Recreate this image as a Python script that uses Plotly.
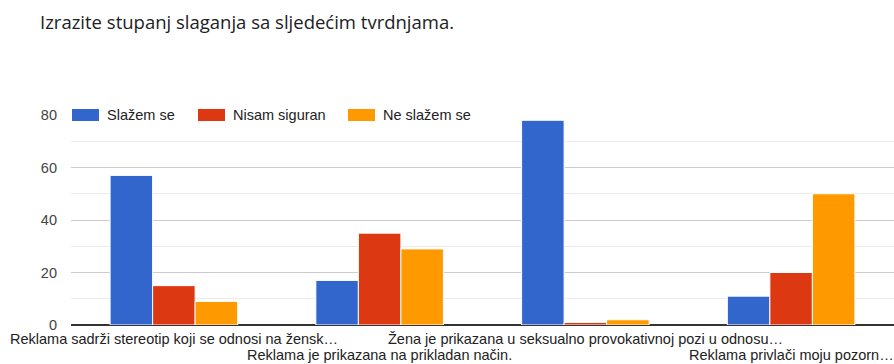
import plotly.graph_objects as go

# Statements (labels as they appear on the axis, truncated)
categories = [
    "Reklama sadrži stereotip koji se odnosi na žensk…",
    "Reklama je prikazana na prikladan način.",
    "Žena je prikazana u seksualno provokativnoj pozi u odnosu…",
    "Reklama privlači moju pozorn…",
]

# Response counts per answer option
slazem_se = [57, 17, 78, 11]
nisam_siguran = [15, 35, 1, 20]
ne_slazem_se = [9, 29, 2, 50]

series_names = ["Slažem se", "Nisam siguran", "Ne slažem se"]
series_colors = ["#3366cc", "#dc3912", "#ff9900"]
series_values = [slazem_se, nisam_siguran, ne_slazem_se]

y_ticks = [0, 20, 40, 60, 80]

title_text = "Izrazite stupanj slaganja sa sljedećim tvrdnjama."

W, H = 894, 364
ML, MR, MT, MB = 71, 0, 115, 39
PW, PH = W - ML - MR, H - MT - MB
LABEL_FONT = "Liberation Sans, Arial, sans-serif"
FS = 14.5

positions = list(range(len(categories)))


def px_x(px):
    return (px - ML) / PW


def px_y(py):
    return (H - MB - py) / PH


fig = go.Figure()
for name, color, vals in zip(series_names, series_colors, series_values):
    fig.add_trace(go.Bar(
        x=positions, y=vals, name=name, hovertext=categories,
        marker=dict(color=color, line=dict(color="white", width=1)),
        showlegend=False,
    ))

fig.update_layout(
    width=W, height=H,
    margin=dict(l=ML, r=MR, t=MT, b=MB),
    paper_bgcolor="white", plot_bgcolor="white",
    barmode="group", bargap=0.38, bargroupgap=0.0,
    font=dict(family=LABEL_FONT, color="#222222"),
    title=dict(
        text=title_text, xref="container", yref="container",
        x=40 / W, xanchor="left", y=1 - 23 / H, yanchor="middle",
        font=dict(size=18.5, color="#202124", family="Open Sans, Roboto, sans-serif"),
    ),
    xaxis=dict(
        range=[-0.5, len(categories) - 0.5],
        showticklabels=False, ticks="", showgrid=False, showline=False,
        zeroline=False, automargin=False,
    ),
    yaxis=dict(
        range=[0, 80], tickvals=y_ticks, ticks="", showline=False,
        gridcolor="#cccccc", gridwidth=1,
        zeroline=True, zerolinecolor="#333333", zerolinewidth=2,
        minor=dict(dtick=10, tick0=0, showgrid=True, gridcolor="#ebebeb", gridwidth=1, ticks=""),
        tickfont=dict(size=FS, color="#444444"),
        ticklabelstandoff=13,
        automargin=False,
    ),
)

# Category labels, alternating between two rows under the axis
row_y = [339, 355]
for i, cat in enumerate(categories):
    fig.add_annotation(
        xref="x", yref="paper", x=positions[i], y=px_y(row_y[i % 2]),
        xanchor="center", yanchor="middle", showarrow=False,
        text=cat, font=dict(size=FS, color="#222222", family=LABEL_FONT),
    )

# Custom legend across the top of the plot area
legend_x = [72, 198, 348]
legend_y = 115
for name, color, x0 in zip(series_names, series_colors, legend_x):
    fig.add_shape(
        type="rect", xref="paper", yref="paper",
        x0=px_x(x0), x1=px_x(x0 + 27),
        y0=px_y(legend_y + 6), y1=px_y(legend_y - 6),
        fillcolor=color, line=dict(width=0), layer="above",
    )
    fig.add_annotation(
        xref="paper", yref="paper",
        x=px_x(x0 + 33), y=px_y(legend_y),
        xanchor="left", yanchor="middle", showarrow=False,
        text=name, font=dict(size=FS, color="#222222", family=LABEL_FONT),
    )

fig.write_html("out.html")
